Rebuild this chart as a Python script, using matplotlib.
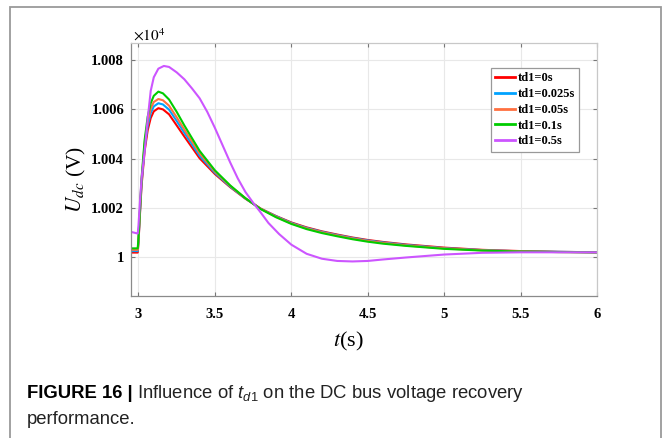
import matplotlib
matplotlib.use("Agg")
import matplotlib.pyplot as plt
from matplotlib.patches import Rectangle

# values, in units of 1e4 V (offset from 1.000 given in 1e-3)
t_main = [2.95, 2.995, 3.0, 3.01, 3.02, 3.04, 3.06, 3.08, 3.10, 3.13, 3.16, 3.20,
          3.25, 3.30, 3.40, 3.50, 3.60, 3.70, 3.80, 3.90, 4.00, 4.10, 4.20, 4.30,
          4.40, 4.50, 4.60, 4.75, 5.00, 5.25, 5.50, 5.75, 6.00]
u_td0 = [0.20, 0.20, 0.60, 1.80, 2.90, 4.30, 5.15, 5.65, 5.92, 6.05, 6.00, 5.80,
         5.35, 4.90, 4.02, 3.38, 2.85, 2.38, 1.98, 1.68, 1.42, 1.22, 1.06, 0.93,
         0.81, 0.71, 0.63, 0.53, 0.40, 0.31, 0.26, 0.23, 0.21]
u_td0025 = [0.26, 0.26, 0.66, 1.87, 3.00, 4.45, 5.33, 5.85, 6.12, 6.25, 6.20, 5.99,
            5.53, 5.05, 4.12, 3.43, 2.87, 2.39, 1.97, 1.67, 1.40, 1.20, 1.04, 0.91,
            0.79, 0.69, 0.61, 0.51, 0.38, 0.30, 0.25, 0.23, 0.21]
u_td005 = [0.31, 0.31, 0.72, 1.93, 3.10, 4.60, 5.50, 6.03, 6.30, 6.42, 6.37, 6.15,
           5.68, 5.18, 4.22, 3.48, 2.90, 2.40, 1.97, 1.65, 1.38, 1.18, 1.02, 0.89,
           0.77, 0.67, 0.59, 0.49, 0.37, 0.29, 0.25, 0.22, 0.21]
u_td01 = [0.37, 0.37, 0.80, 2.00, 3.20, 4.75, 5.70, 6.25, 6.55, 6.72, 6.65, 6.40,
          5.90, 5.35, 4.32, 3.53, 2.92, 2.40, 1.96, 1.63, 1.36, 1.15, 0.99, 0.86,
          0.74, 0.64, 0.56, 0.47, 0.35, 0.28, 0.24, 0.22, 0.21]

t_05 = [2.95, 2.995, 3.0, 3.01, 3.02, 3.04, 3.06, 3.08, 3.10, 3.13, 3.166, 3.20,
        3.25, 3.30, 3.35, 3.40, 3.45, 3.50, 3.55, 3.60, 3.65, 3.70, 3.75, 3.80,
        3.85, 3.92, 4.00, 4.10, 4.20, 4.30, 4.40, 4.50, 4.60, 4.75, 5.00, 5.25,
        5.50, 5.75, 6.00]
u_td05 = [1.04, 0.97, 1.30, 2.30, 3.20, 4.30, 5.60, 6.75, 7.30, 7.65, 7.76, 7.72,
          7.50, 7.22, 6.85, 6.45, 5.90, 5.25, 4.55, 3.85, 3.20, 2.65, 2.22, 1.82,
          1.40, 0.95, 0.52, 0.15, -0.05, -0.14, -0.16, -0.14, -0.08, 0.00, 0.12,
          0.19, 0.21, 0.21, 0.21]

labels = ["td1=0s", "td1=0.025s", "td1=0.05s", "td1=0.1s", "td1=0.5s"]
colors = ["#ff0000", "#00a2ff", "#ff7040", "#00cc00", "#cc55ff"]

x_ticks = [3, 3.5, 4, 4.5, 5, 5.5, 6]
x_ticklabels = ["3", "3.5", "4", "4.5", "5", "5.5", "6"]
y_ticks = [1.0, 1.002, 1.004, 1.006, 1.008]
y_ticklabels = ["1", "1.002", "1.004", "1.006", "1.008"]

plt.rcParams["mathtext.fontset"] = "custom"
plt.rcParams["mathtext.rm"] = "Liberation Sans"
plt.rcParams["mathtext.it"] = "Liberation Sans:italic"

fig = plt.figure(figsize=(6.64, 4.38), dpi=100)
W, H = 664, 438

# outer gray frame of the figure panel
fig.patches.append(Rectangle((10 / W, -0.1), 651 / W, 1.1 - 7 / H, transform=fig.transFigure,
                             fill=False, edgecolor="#9a9a9a", linewidth=1.3))

ax = fig.add_axes([131 / W, 1 - 296 / H, (597 - 131) / W, (296 - 43) / H])

series = [(t_main, u_td0), (t_main, u_td0025), (t_main, u_td005), (t_main, u_td01), (t_05, u_td05)]
for (t, u), lab, c in zip(series, labels, colors):
    ax.plot(t, [1 + v * 1e-3 for v in u], color=c, lw=1.5, label=lab)

ax.set_xlim(2.951, 6.0)
ax.set_ylim(0.99844, 1.00869)
ax.set_xticks(x_ticks)
ax.set_xticklabels(x_ticklabels)
ax.set_yticks(y_ticks)
ax.set_yticklabels(y_ticklabels)
for lbl in ax.get_xticklabels() + ax.get_yticklabels():
    lbl.set_fontfamily("Liberation Serif")
    lbl.set_fontweight("bold")
    lbl.set_fontsize(10.5)
ax.tick_params(direction="in", length=3, width=0.8, color="#777777", top=True, right=True)
ax.tick_params(axis="y", pad=5)
ax.tick_params(axis="x", pad=9)
ax.grid(True, color="#e8e8e8", lw=0.8)
ax.set_axisbelow(True)
for side, sp in ax.spines.items():
    sp.set_color("#8a8a8a" if side in ("left", "bottom") else "#c8c8c8")
    sp.set_linewidth(0.9)

fig.text(133 / W, 1 - 35 / H, r"$\times10^4$", fontsize=11, family="Liberation Serif",
         math_fontfamily="stix", va="center", ha="left")
fig.text(76 / W, 1 - 179 / H, r"$U_{dc}$ (V)", fontsize=15.5, family="Liberation Serif",
         math_fontfamily="stix", rotation=90, va="center", ha="center")
fig.text(348 / W, 1 - 341 / H, r"$t$(s)", fontsize=16, family="Liberation Serif",
         math_fontfamily="stix", va="center", ha="center")

leg = ax.legend(loc="upper right", bbox_to_anchor=(579 / W, 1 - 68 / H),
                bbox_transform=fig.transFigure, borderaxespad=0, fancybox=False,
                prop={"family": "Liberation Serif", "weight": "bold", "size": 9},
                handlelength=1.6, handletextpad=0.2, labelspacing=0.3,
                borderpad=0.35, framealpha=1)
leg.get_frame().set_edgecolor("#999999")
leg.get_frame().set_linewidth(0.9)
for line in leg.get_lines():
    line.set_linewidth(2)

# caption
cap1 = fig.text(27 / W, 1 - 393 / H, "FIGURE 16 |", fontsize=13.3, weight="bold",
                family="Liberation Sans", va="center", ha="left")
fig.canvas.draw()
bb = cap1.get_window_extent()
fig.text((bb.x1 + 4) / W, 1 - 393 / H, r"Influence of $t_{d1}$ on the DC bus voltage recovery",
         fontsize=13.3, family="Liberation Sans", va="center", ha="left", color="#222222")
fig.text(27 / W, 1 - 419 / H, "performance.", fontsize=13.3, family="Liberation Sans",
         va="center", ha="left", color="#222222")

fig.savefig("out.png", dpi=100)
